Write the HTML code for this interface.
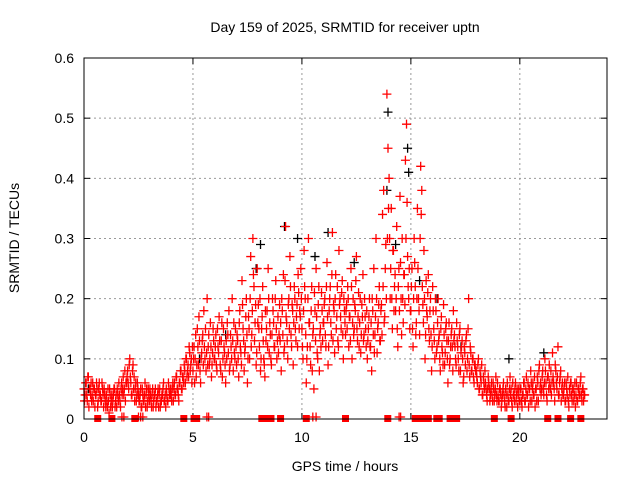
<!DOCTYPE html>
<html><head><meta charset="utf-8"><style>
body{margin:0;background:#fff;}
svg text{font-family:"Liberation Sans",sans-serif;}
</style></head><body>
<svg id="chart" width="640" height="480" xmlns="http://www.w3.org/2000/svg">
<rect width="640" height="480" fill="#fff"/>
<text x="345" y="32" font-size="14" text-anchor="middle">Day 159 of 2025, SRMTID for receiver uptn</text>
<text x="0" y="0" font-size="14" text-anchor="middle" transform="translate(19,238) rotate(-90)">SRMTID / TECUs</text>
<text x="345" y="471" font-size="14" text-anchor="middle">GPS time / hours</text>
<g id="grid"></g>
<g id="ticks"></g>
<g id="marks"></g>
<rect x="84" y="58" width="523" height="361" fill="none" stroke="#000" stroke-width="1"/>
</svg>
<script>
const xTicks=[0,5,10,15,20];
const yTicks=[0,0.1,0.2,0.3,0.4,0.5,0.6];
const yTickLabels=["0","0.1","0.2","0.3","0.4","0.5","0.6"];
const hours=[0,1,2,3,4,5,6,7,8,9,10,11,12,13,14,15,16,17,18,19,20,21,22];
const redValues=[
[.05,.04,.06,.03,.07,.05,.04,.03,.06,.05,.02,.04,.05,.03,.06,.04,.03,.05,.02,.04],
[.02,.03,.05,.01,.04,.03,.02,.04,.05,.03,.02,.04,.06,.03,.05,.04,.07,.05,.03,.06],
[.08,.05,.1,.06,.04,.09,.07,.05,.03,.06,.04,.03,.05,.02,.04,.03,.06,.04,.02,.05],
[.03,.04,.02,.05,.03,.04,.02,.03,.05,.04,.02,.03,.04,.06,.03,.02,.04,.03,.05,.04],
[.04,.05,.03,.06,.04,.07,.05,.03,.06,.08,.05,.07,.09,.06,.1,.08,.07,.11,.09,.06],
[.08,.12,.1,.07,.15,.09,.13,.06,.11,.14,.18,.1,.08,.2,.12,.09,.16,.07,.11,.13],
[.1,.14,.08,.12,.17,.09,.13,.07,.15,.11,.06,.1,.14,.18,.09,.12,.2,.08,.11,.15],
[.09,.13,.07,.18,.11,.23,.15,.08,.12,.2,.06,.17,.1,.27,.14,.3,.22,.16,.09,.25],
[.19,.12,.08,.15,.22,.1,.07,.13,.18,.25,.11,.14,.09,.2,.16,.12,.23,.1,.17,.14],
[.13,.08,.18,.24,.12,.32,.16,.1,.2,.27,.14,.19,.09,.22,.15,.17,.12,.21,.18,.25],
[.15,.1,.28,.2,.06,.12,.3,.16,.09,.22,.14,.05,.18,.25,.11,.19,.08,.15,.21,.13],
[.16,.2,.12,.26,.09,.18,.22,.14,.31,.19,.11,.24,.17,.13,.28,.2,.15,.23,.1,.18],
[.14,.19,.22,.12,.17,.25,.1,.2,.15,.18,.27,.13,.21,.16,.11,.19,.24,.14,.17,.12],
[.1,.15,.2,.12,.08,.18,.25,.14,.3,.11,.16,.22,.13,.19,.34,.38,.17,.29,.54,.45],
[.4,.2,.35,.15,.28,.22,.18,.32,.12,.25,.37,.2,.3,.16,.24,.43,.49,.27,.2,.15],
[.18,.25,.12,.3,.22,.16,.35,.2,.14,.42,.38,.19,.28,.1,.23,.17,.24,.13,.2,.08],
[.22,.15,.1,.18,.12,.2,.14,.08,.17,.11,.19,.09,.15,.13,.06,.16,.1,.14,.12,.18],
[.14,.1,.16,.12,.08,.15,.11,.13,.06,.12,.09,.14,.1,.2,.07,.11,.08,.1,.06,.09],
[.08,.06,.1,.05,.07,.09,.04,.06,.08,.05,.03,.07,.05,.04,.06,.03,.05,.04,.07,.03],
[.04,.03,.05,.02,.04,.06,.03,.05,.02,.04,.03,.07,.05,.02,.04,.03,.06,.04,.02,.05],
[.03,.05,.02,.04,.06,.03,.07,.04,.02,.05,.08,.03,.06,.04,.02,.05,.07,.03,.09,.06],
[.05,.08,.04,.1,.06,.03,.07,.09,.05,.04,.11,.06,.03,.08,.05,.12,.04,.07,.03,.06],
[.04,.06,.03,.05,.07,.02,.04,.06,.03,.05,.04,.02,.06,.03,.05,.04,.07,.03,.05,.04]
];
const redValues2=[
[.03,.06,.04,.07,.02,.05,.06,.04,.03,.05,.04,.06,.02,.05,.04,.03,.06,.04,.05,.03],
[.04,.02,.03,.05,.02,.04,.03,.05,.02,.04,.05,.03,.04,.02,.06,.05,.04,.08,.06,.07],
[.06,.09,.07,.04,.08,.05,.03,.06,.04,.05,.03,.04,.02,.05,.03,.04,.02,.05,.03,.04],
[.05,.03,.04,.02,.04,.05,.03,.04,.02,.05,.03,.04,.05,.03,.04,.05,.03,.06,.04,.05],
[.03,.06,.05,.04,.07,.05,.04,.06,.08,.05,.07,.06,.08,.1,.07,.09,.12,.08,.1,.12],
[.1,.06,.14,.09,.12,.17,.08,.1,.13,.09,.12,.15,.11,.09,.14,.1,.12,.09,.15,.1],
[.12,.09,.15,.11,.13,.08,.16,.1,.12,.09,.13,.16,.11,.08,.14,.1,.13,.16,.1,.12],
[.14,.1,.16,.12,.09,.19,.13,.11,.17,.14,.1,.15,.2,.12,.18,.24,.13,.19,.11,.16],
[.15,.2,.1,.17,.13,.09,.18,.15,.12,.2,.16,.1,.14,.18,.12,.2,.15,.13,.11,.19],
[.16,.2,.14,.11,.23,.17,.13,.19,.15,.22,.12,.18,.16,.2,.13,.19,.24,.15,.17,.2],
[.12,.18,.22,.14,.1,.2,.16,.12,.18,.08,.15,.21,.13,.17,.1,.22,.14,.12,.18,.16],
[.19,.14,.22,.17,.12,.2,.16,.24,.13,.18,.2,.15,.22,.12,.19,.17,.21,.14,.2,.16],
[.18,.15,.2,.17,.13,.22,.16,.14,.19,.23,.15,.17,.12,.2,.14,.17,.13,.2,.15,.18],
[.13,.17,.12,.16,.2,.14,.11,.17,.2,.15,.19,.13,.18,.14,.22,.16,.25,.2,.3,.35],
[.3,.25,.2,.28,.18,.24,.2,.15,.22,.18,.26,.14,.2,.24,.19,.3,.36,.22,.25,.18],
[.22,.15,.2,.26,.14,.2,.25,.18,.3,.34,.22,.16,.2,.14,.18,.21,.15,.18,.14,.12],
[.18,.13,.2,.11,.16,.13,.1,.15,.12,.09,.14,.11,.16,.1,.13,.09,.12,.15,.08,.13],
[.12,.09,.13,.1,.14,.08,.12,.1,.07,.11,.13,.08,.15,.09,.12,.08,.1,.07,.09,.08],
[.07,.09,.05,.08,.06,.04,.07,.05,.06,.04,.05,.06,.03,.05,.04,.06,.03,.05,.04,.06],
[.03,.05,.04,.03,.05,.04,.02,.04,.06,.03,.05,.04,.03,.06,.04,.05,.03,.05,.04,.03],
[.05,.03,.04,.06,.03,.05,.04,.06,.05,.03,.06,.05,.04,.07,.05,.03,.06,.08,.05,.04],
[.07,.05,.06,.08,.04,.07,.05,.06,.08,.06,.07,.05,.09,.06,.07,.04,.06,.08,.05,.04],
[.05,.03,.06,.04,.03,.05,.06,.04,.05,.03,.06,.04,.03,.05,.04,.06,.04,.05,.03,.04]
];
const blackTimes=[7.9,8.1,9.2,9.8,10.6,11.2,12.4,13.9,13.95,14.3,14.85,14.9,15.4,16.2,19.5,21.1,0.2,2.5,5.3,6.5,17.3,18.2];
const blackValues=[.25,.29,.32,.3,.27,.31,.26,.38,.51,.29,.45,.41,.23,.2,.1,.11,.05,.04,.1,.14,.12,.07];
const squareTimes=[0.63,1.28,2.33,4.58,5.05,5.17,8.16,8.27,8.58,9.02,10.2,12.0,13.94,15.2,15.3,15.4,15.5,15.6,15.7,15.8,16.19,16.3,16.8,16.95,17.1,18.83,19.6,21.28,21.75,22.33,22.8];
const tickMarkTimes=[1.74,1.83,2.5,2.6,2.7,5.64,5.72,10.5,10.65,14.46,14.53];

const L=84,R=607,T=58,B=419,NS="http://www.w3.org/2000/svg";
const xs=h=>L+(R-L)*h/24;
const ys=v=>B-(B-T)*v/0.6;
function mk(tag,attrs,parent){const e=document.createElementNS(NS,tag);for(const k in attrs)e.setAttribute(k,attrs[k]);parent.appendChild(e);return e;}
const grid=document.getElementById('grid'),ticks=document.getElementById('ticks'),marks=document.getElementById('marks');
yTicks.forEach((v,i)=>{
  const y=ys(v);
  if(i>0&&i<yTicks.length-1){const g=mk('line',{x1:L,x2:R,y1:y,y2:y,stroke:'#999','stroke-dasharray':'2,3','stroke-width':1},grid);
  
  }
  const t=mk('text',{x:L-10,y:y+5,'font-size':14,'text-anchor':'end'},ticks);t.textContent=yTickLabels[i];
  
  
  mk('line',{x1:L,x2:L+6,y1:y,y2:y,stroke:'#000'},ticks);
  mk('line',{x1:R,x2:R-6,y1:y,y2:y,stroke:'#000'},ticks);
});
xTicks.forEach(h=>{
  const x=xs(h);
  if(h>0){const g=mk('line',{x1:x,x2:x,y1:T,y2:B,stroke:'#999','stroke-dasharray':'2,3','stroke-width':1},grid);
  
  }
  const t=mk('text',{x:x,y:B+23,'font-size':14,'text-anchor':'middle'},ticks);t.textContent=String(h);
  
  
  mk('line',{x1:x,x2:x,y1:B,y2:B-6,stroke:'#000'},ticks);
  mk('line',{x1:x,x2:x,y1:T,y2:T+6,stroke:'#000'},ticks);
});
function plus(x,y,c,name){
  const p=mk('path',{d:`M${x-4.5},${y}h9M${x},${y-4.5}v9`,stroke:c,'stroke-width':1.3,fill:'none'},marks);
  
  
}
blackTimes.forEach((t,i)=>plus(xs(t),ys(blackValues[i]),'#000','black-point'));
hours.forEach((h,i)=>redValues[i].forEach((v,j)=>plus(xs(h+j*0.05),ys(v),'#f00','red-point')));
hours.forEach((h,i)=>redValues2[i].forEach((v,j)=>plus(xs(h+j*0.05+0.025),ys(v),'#f00','red-point')));
tickMarkTimes.forEach(t=>plus(xs(t),ys(0)-2,'#f00','zero-point'));
squareTimes.forEach(t=>{
  const s=mk('rect',{x:xs(t)-3.5,y:ys(0)-4,width:7,height:7,fill:'#f00'},marks);
  
  
});
</script>
</body></html>
